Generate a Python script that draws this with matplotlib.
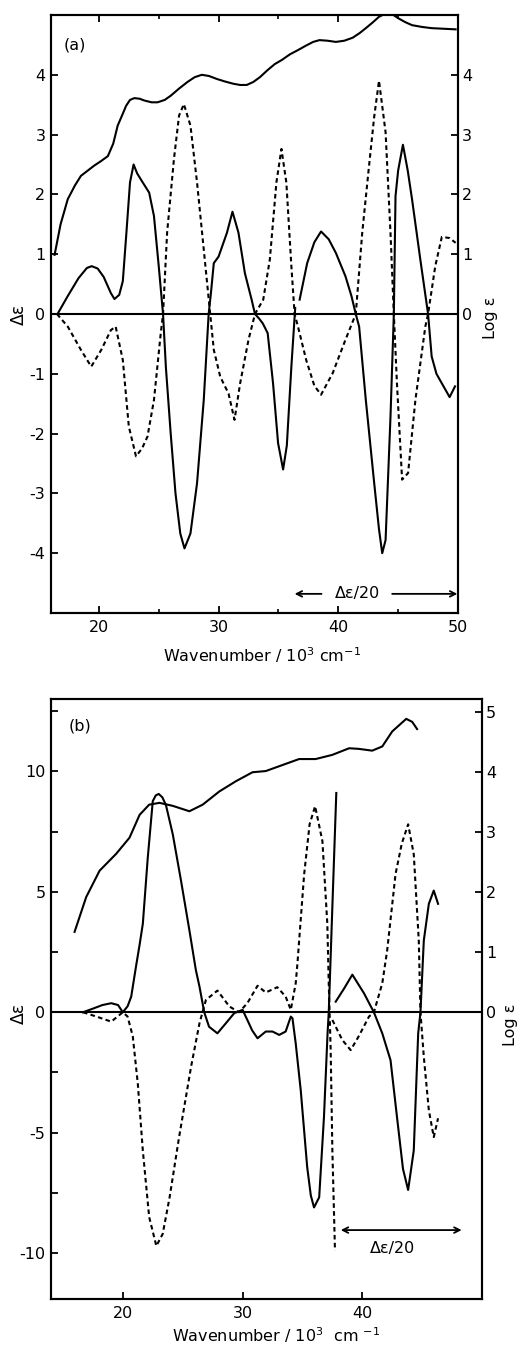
import numpy as np
import matplotlib
matplotlib.use("Agg")
import matplotlib.pyplot as plt
from matplotlib.ticker import FixedLocator

nan = np.nan

# ---------------- Panel (a) data ----------------
a_cd_solid_x = [16.6, 17.4, 18.3, 19.0, 19.4, 19.9, 20.4, 21.0, 21.3, 21.7, 22.0, 22.3, 22.6, 22.9, 23.2, 23.6,
                24.2, 24.6, 25.0, 25.36, 25.6, 26.0, 26.4, 26.8, 27.15, 27.65, 28.2, 28.76, 29.17,
                29.36, 29.6, 30.0, 30.7, 31.16, 31.66, 32.2, 32.76, 33.04, 33.4, 33.7, 34.1, 34.55,
                34.97, 35.39, 35.7, 36.08, 36.4, nan, 36.77, 37.4, 38.0, 38.56, 39.2, 39.8, 40.6,
                41.1, 41.46, 41.74, 42.3, 43.0, 43.4, 43.67, 43.95, 44.36, 44.64, 44.78, 45.0, 45.4,
                45.8, 46.16, 46.86, 47.5, 47.8, 48.2, 48.65, 49.3, 49.75]
a_cd_solid_y = [0.02, 0.3, 0.6, 0.77, 0.8, 0.76, 0.62, 0.35, 0.25, 0.32, 0.55, 1.36, 2.2, 2.5, 2.35, 2.22,
                2.03, 1.64, 0.8, 0.0, -0.9, -2.0, -3.0, -3.67, -3.92, -3.67, -2.83, -1.44, 0.0,
                0.35, 0.85, 0.96, 1.36, 1.71, 1.36, 0.68, 0.24, 0.0, -0.08, -0.16, -0.32, -1.16,
                -2.16, -2.6, -2.2, -0.88, 0.1, nan, 0.24, 0.85, 1.2, 1.38, 1.25, 1.02, 0.63,
                0.3, 0.0, -0.21, -1.44, -2.83, -3.6, -4.0, -3.78, -1.72, 0.0, 1.97, 2.4, 2.83,
                2.4, 1.92, 0.9, 0.0, -0.71, -1.0, -1.16, -1.39, -1.21]

a_cd_dash_x = [16.5, 17.4, 18.5, 19.36, 20.2, 21.0, 21.4, 22.0, 22.5, 23.1, 23.6, 24.06, 24.6,
               25.17, 25.36, 25.7, 26.27, 26.7, 27.1, 27.65, 28.2, 28.76, 29.3, 29.6, 30.14, 30.83,
               31.33, 31.8, 32.5, 33.04, 33.73, 34.28, 34.83, 35.25, 35.66, 36.08, 36.35, 36.63,
               37.32, 38.0, 38.56, 39.53, 40.6, 41.46, 42.0, 42.57, 43.0, 43.4, 43.95, 44.36,
               44.64, 44.9, 45.33, 45.83, 46.44, 47.27, 47.5, 48.1, 48.65, 49.3, 49.8]
a_cd_dash_y = [0.0, -0.21, -0.6, -0.88, -0.6, -0.27, -0.21, -0.77, -1.88, -2.38, -2.25, -2.05,
               -1.44, -0.32, 0.0, 1.36, 2.59, 3.32, 3.51, 3.15, 2.2, 1.08, 0.0, -0.6, -1.05, -1.33,
               -1.77, -1.16, -0.43, 0.0, 0.24, 0.91, 2.2, 2.76, 2.2, 0.8, 0.0, -0.21, -0.77, -1.2,
               -1.35, -0.99, -0.43, 0.0, 1.36, 2.48, 3.3, 3.9, 3.04, 1.36, 0.0, -1.16, -2.77,
               -2.66, -1.44, -0.21, 0.0, 0.8, 1.29, 1.27, 1.19]

a_abs_x = [16.3, 16.8, 17.4, 18.0, 18.5, 19.6, 20.2, 20.75, 21.2, 21.57, 22.0, 22.27, 22.6, 22.96,
           23.4, 23.8, 24.4, 24.9, 25.5, 26.0, 26.7, 27.4, 28.0, 28.6, 29.2, 29.86, 30.5, 31.24,
           31.8, 32.35, 32.9, 33.45, 34.1, 34.7, 35.3, 35.94, 36.6, 37.32, 37.9, 38.43, 39.1, 39.8,
           40.5, 41.2, 41.8, 42.3, 42.9, 43.4, 43.8, 44.2, 44.6, 45.06, 45.6, 46.16, 47.0, 47.8,
           48.8, 49.8]
a_abs_logeps = [0.99, 1.5, 1.92, 2.15, 2.31, 2.48, 2.56, 2.64, 2.85, 3.15, 3.35, 3.48, 3.58, 3.61,
                3.6, 3.57, 3.54, 3.54, 3.58, 3.65, 3.77, 3.88, 3.96, 4.0, 3.98, 3.93, 3.89, 3.85,
                3.83, 3.83, 3.88, 3.96, 4.08, 4.18, 4.25, 4.34, 4.41, 4.49, 4.55, 4.58, 4.57, 4.55,
                4.57, 4.62, 4.7, 4.78, 4.88, 4.97, 5.01, 5.02, 5.0, 4.94, 4.88, 4.83, 4.8, 4.78,
                4.77, 4.76]

# ---------------- Panel (b) data ----------------
b_cd_solid_x = [16.67, 17.5, 18.3, 19.03, 19.6, 20.0, 20.4, 20.7, 21.1, 21.4, 21.67, 22.08, 22.5,
                22.75, 23.0, 23.3, 23.6, 24.17, 24.86, 25.56, 26.1, 26.4, 26.8, 27.2, 27.9, 28.6, 29.3, 30.0,
                30.4, 30.8, 31.25, 31.94, 32.5, 33.06, 33.6, 34.03, 34.17, 34.44, 34.86, 35.4,
                35.7, 35.97, 36.4, 36.8, 37.1, 37.2, 37.5, 37.83, nan, 37.78, 38.5, 39.17, 40.14,
                40.97, 41.67, 42.36, 42.9, 43.4, 43.83, 44.3, 44.67, 44.86, 45.14, 45.56, 45.97,
                46.33]
b_cd_solid_y = [0.0, 0.15, 0.3, 0.375, 0.3, 0.0, 0.25, 0.65, 1.9, 2.8, 3.67, 6.4, 8.76,
                9.0, 9.06, 8.92, 8.6, 7.39, 5.46, 3.4, 1.75, 1.07, 0.0, -0.6, -0.875, -0.46, -0.04, 0.1,
                -0.32, -0.75, -1.08, -0.8, -0.8, -0.94, -0.8, -0.18, -0.25, -1.29, -3.24, -6.43,
                -7.6, -8.1, -7.68, -4.35, -0.875, 0.0, 4.36, 9.1, nan, 0.44, 1.0, 1.56, 0.79,
                0.0, -0.875, -1.99, -4.35, -6.5, -7.375, -5.74, -0.875, 0.0, 2.98, 4.5, 5.05,
                4.5]

b_cd_dash_x = [16.67, 17.8, 19.03, 20.0, 20.4, 20.83, 21.25, 21.67, 22.2, 22.8, 23.33, 23.9, 24.7,
               25.7, 26.4, 26.94, 27.9, 28.9, 29.7, 30.4, 31.25, 31.94, 32.9, 33.6, 34.03, 34.44,
               34.58, 35.14, 35.6, 36.06, 36.67, 37.08, 37.2, 37.36, 37.5, 37.72, nan, 37.5, 38.33,
               39.03, 39.7, 40.56, 40.97, 41.67, 42.08, 42.78, 43.3, 43.83, 44.3, 44.72, 44.86,
               45.14, 45.56, 45.97, 46.33]
b_cd_dash_y = [0.0, -0.18, -0.39, 0.0, -0.18, -1.0, -2.96, -5.74, -8.5, -9.7, -9.2, -7.7, -5.18,
               -2.26, -0.46, 0.51, 0.9, 0.24, 0.0, 0.375, 1.1, 0.82, 1.04, 0.65, 0.1, 1.2,
               2.0, 5.7, 7.8, 8.55, 7.1, 3.67, 1.2, -1.57, -5.7, -9.9, nan, -0.32, -1.15,
               -1.57, -1.0, -0.18, 0.0, 1.2, 2.57, 5.74, 7.0, 7.8, 6.56, 2.98, 0.0,
               -1.85, -4.07, -5.18, -4.4]

b_abs_x = [15.97, 16.94, 18.06, 19.44, 20.56, 21.4, 22.2, 23.06, 24.17, 25.56, 26.67, 28.06, 29.44,
           30.83, 31.94, 33.33, 34.72, 36.1, 37.5, 38.9, 39.7, 40.83, 41.67, 42.5, 43.67, 44.17,
           44.58]
b_abs_logeps = [1.34, 1.92, 2.36, 2.64, 2.91, 3.29, 3.46, 3.49, 3.44, 3.35, 3.46, 3.68, 3.85,
                4.0, 4.02, 4.12, 4.22, 4.22, 4.29, 4.4, 4.39, 4.36, 4.43, 4.68, 4.89, 4.84, 4.72]

a_left_ticks = [-4, -3, -2, -1, 0, 1, 2, 3, 4]
a_right_ticks = [0, 1, 2, 3, 4]
a_x_ticks = [20, 30, 40, 50]
a_x_minor = [25, 35, 45]
b_left_ticks = [-10, -5, 0, 5, 10]
b_left_minor = [-7.5, -2.5, 2.5, 7.5, 12.5]
b_right_ticks = [0, 1, 2, 3, 4, 5]
b_x_ticks = [20, 30, 40]

FS = 11.5
LW = 1.5
DASH = (2.2, 1.6)
plt.rcParams['font.family'] = ['DejaVu Sans']
plt.rcParams['axes.unicode_minus'] = False

W, H = 524, 1347
fig = plt.figure(figsize=(W / 100, H / 100), dpi=100)


def box(l, t, r, b):
    return [l / W, 1 - b / H, (r - l) / W, (b - t) / H]


def center_label(lbl):
    lbl.set_va('center')
    lbl.set_ha('center')


# ---------------- Panel (a) ----------------
axa = fig.add_axes(box(51, 15, 458, 613))
axa.set_xlim(16, 50)
axa.set_ylim(-5, 5)
axa.axhline(0, color='black', lw=LW)
axa.plot(a_cd_solid_x, a_cd_solid_y, color='black', lw=LW)
axa.plot(a_cd_dash_x, a_cd_dash_y, color='black', lw=LW, linestyle=(0, DASH))
axa.set_yticks(a_left_ticks)
axa.set_xticks(a_x_ticks)
axa.xaxis.set_minor_locator(FixedLocator(a_x_minor))
axa.tick_params(axis='both', which='major', direction='in', length=5, width=1.3,
                labelsize=FS, top=True)
axa.tick_params(axis='x', which='minor', direction='in', length=3, width=1.2, top=True)
axa.tick_params(axis='y', which='major', pad=4)
axa.tick_params(axis='x', which='major', pad=5)
axa.set_xlabel('Wavenumber / 10$^3$ cm$^{-1}$', fontsize=FS)
center_label(axa.xaxis.label)
axa.xaxis.set_label_coords(0.518, (613 - 655) / 598)
axa.set_ylabel('Δε', fontsize=FS + 1)
center_label(axa.yaxis.label)
axa.yaxis.set_label_coords((19 - 51) / 407, 0.5)
axa.text(18.0, 4.49, '(a)', fontsize=FS, ha='center', va='center')
axa.annotate('', xy=(36.35, -4.68), xytext=(38.6, -4.68),
             arrowprops=dict(arrowstyle='->', lw=1.3, color='black', shrinkA=0, shrinkB=0))
axa.annotate('', xy=(49.95, -4.68), xytext=(44.5, -4.68),
             arrowprops=dict(arrowstyle='->', lw=1.3, color='black', shrinkA=0, shrinkB=0))
axa.text(41.6, -4.68, 'Δε/20', fontsize=FS, ha='center', va='center')

axa2 = axa.twinx()
axa2.set_ylim(-5, 5)
axa2.plot(a_abs_x, a_abs_logeps, color='black', lw=LW)
axa2.set_yticks(a_right_ticks)
axa2.tick_params(axis='y', direction='in', length=5, width=1.3, labelsize=FS, pad=3)
axa2.set_ylabel('Log ε', fontsize=FS, rotation=90)
center_label(axa2.yaxis.label)
axa2.yaxis.set_label_coords((490 - 51) / 407, (613 - 318) / 598)

# ---------------- Panel (b) ----------------
axb = fig.add_axes(box(51, 699, 482, 1299))
axb.set_xlim(14, 50)
axb.set_ylim(-11.9, 13.0)
axb.axhline(0, color='black', lw=LW)
axb.plot(b_cd_solid_x, b_cd_solid_y, color='black', lw=LW)
axb.plot(b_cd_dash_x, b_cd_dash_y, color='black', lw=LW, linestyle=(0, DASH))
axb.set_yticks(b_left_ticks)
axb.yaxis.set_minor_locator(FixedLocator(b_left_minor))
axb.set_xticks(b_x_ticks)
axb.tick_params(axis='both', which='major', direction='in', length=5, width=1.3,
                labelsize=FS)
axb.tick_params(axis='y', which='minor', direction='in', length=5, width=1.3)
axb.tick_params(axis='y', which='major', pad=4)
axb.tick_params(axis='x', which='major', pad=5)
axb.set_xlabel('Wavenumber / 10$^3$  cm $^{-1}$', fontsize=FS)
center_label(axb.xaxis.label)
axb.xaxis.set_label_coords(0.522, (1299 - 1335) / 600)
axb.set_ylabel('Δε', fontsize=FS + 1)
center_label(axb.yaxis.label)
axb.yaxis.set_label_coords((19 - 51) / 431, (1299 - 1013) / 600)
axb.text(16.4, 11.86, '(b)', fontsize=FS, ha='center', va='center')
axb.annotate('', xy=(38.2, -9.04), xytext=(48.3, -9.04),
             arrowprops=dict(arrowstyle='<->', lw=1.3, color='black', shrinkA=0, shrinkB=0))
axb.text(42.5, -9.8, 'Δε/20', fontsize=FS, ha='center', va='center')

axb2 = axb.twinx()
axb2.set_ylim(-11.9 / 2.49, 13.0 / 2.49)
axb2.plot(b_abs_x, b_abs_logeps, color='black', lw=LW)
axb2.set_yticks(b_right_ticks)
axb2.tick_params(axis='y', direction='in', length=5, width=1.3, labelsize=FS, pad=3)
axb2.set_ylabel('Log ε', fontsize=FS, rotation=90)
center_label(axb2.yaxis.label)
axb2.yaxis.set_label_coords((511 - 51) / 431, (1299 - 1025) / 600)

for ax in (axa, axa2, axb, axb2):
    for s in ax.spines.values():
        s.set_linewidth(1.5)

fig.savefig('out.png', dpi=100)
